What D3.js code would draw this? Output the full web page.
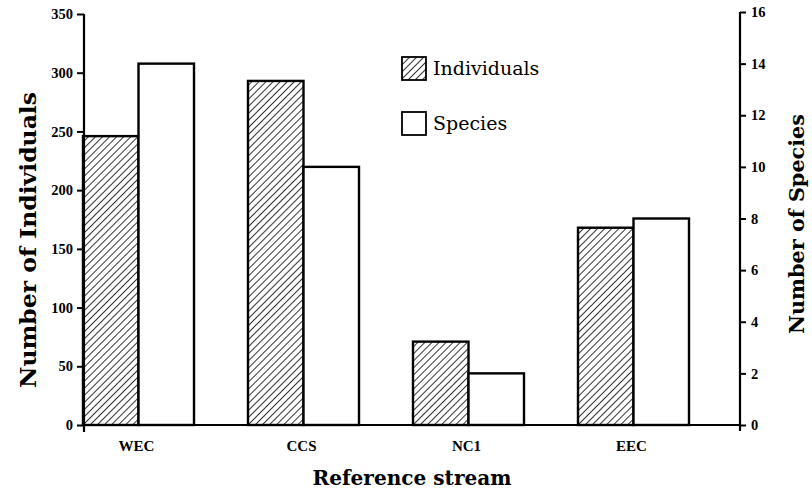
<!DOCTYPE html>
<html>
<head>
<meta charset="utf-8">
<script src="https://cdn.jsdelivr.net/npm/d3@7/dist/d3.min.js"></script>
<style>
  html, body { margin: 0; padding: 0; background: #fff; }
  svg { display: block; }
  text { font-family: "DejaVu Serif", "Liberation Serif", serif; fill: #000; }
</style>
</head>
<body>
<svg id="chart" width="812" height="493"></svg>
<script>
// Reference streams and the two measured quantities
const streams = ["WEC", "CCS", "NC1", "EEC"];
const individuals = [246, 293, 71, 168];
const species = [14, 10, 2, 8];
const leftTicks = [0, 50, 100, 150, 200, 250, 300, 350];
const rightTicks = [0, 2, 4, 6, 8, 10, 12, 14, 16];
const seriesNames = ["Individuals", "Species"];

const svg = d3.select("#chart");

// Hatch fill for the Individuals bars
const defs = svg.append("defs");
const pat = defs.append("pattern")
  .attr("id", "hatch")
  .attr("patternUnits", "userSpaceOnUse")
  .attr("width", 5).attr("height", 5)
  .attr("patternTransform", "rotate(45)");
pat.append("rect").attr("width", 5).attr("height", 5).attr("fill", "#fff");
pat.append("line")
  .attr("x1", 0).attr("y1", 0).attr("x2", 0).attr("y2", 5)
  .attr("stroke", "#000").attr("stroke-width", 1.6);

const axisLeftX = 84, axisRightX = 740, baseY = 425;

const x = d3.scaleBand().domain(streams).range([83, 689]).paddingInner(54 / 165).paddingOuter(0);
const xs = d3.scaleBand().domain(seriesNames).range([0, x.bandwidth()]);
const yL = d3.scaleLinear().domain([0, 350]).range([baseY, 14]);
const yR = d3.scaleLinear().domain([0, 16]).range([baseY, 12]);

// Bars
const groups = svg.append("g").selectAll("g").data(streams).join("g")
  .attr("transform", d => `translate(${x(d)},0)`);

groups.append("rect")
  .attr("x", xs("Individuals"))
  .attr("y", (d, i) => yL(individuals[i]))
  .attr("width", xs.bandwidth())
  .attr("height", (d, i) => baseY - yL(individuals[i]))
  .attr("fill", "url(#hatch)")
  .attr("stroke", "#000").attr("stroke-width", 2.4);

groups.append("rect")
  .attr("x", xs("Species"))
  .attr("y", (d, i) => yR(species[i]))
  .attr("width", xs.bandwidth())
  .attr("height", (d, i) => baseY - yR(species[i]))
  .attr("fill", "#fff")
  .attr("stroke", "#000").attr("stroke-width", 2.4);

const tickFont = sel => sel
  .style("font-family", "'Liberation Serif', serif")
  .style("font-size", "14.5px").style("font-weight", "bold");

// Left axis
const gL = svg.append("g").attr("transform", `translate(${axisLeftX},0)`)
  .call(d3.axisLeft(yL).tickValues(leftTicks).tickSize(7).tickSizeOuter(0).tickPadding(4));
gL.select(".domain").attr("stroke-width", 2.2).attr("d", `M0,${yL(350)}V${baseY + 7}`);
gL.selectAll(".tick line").attr("stroke-width", 2);
tickFont(gL.selectAll(".tick text"));

// Right axis
const gR = svg.append("g").attr("transform", `translate(${axisRightX},0)`)
  .call(d3.axisRight(yR).tickValues(rightTicks).tickSize(6).tickSizeOuter(0).tickPadding(5));
gR.select(".domain").attr("stroke-width", 2.2).attr("d", `M0,${yR(16)}V${baseY + 6}`);
gR.selectAll(".tick line").attr("stroke-width", 2);
tickFont(gR.selectAll(".tick text"));

// Baseline and category labels
const gX = svg.append("g").attr("transform", `translate(0,${baseY})`)
  .call(d3.axisBottom(x).tickSize(0).tickPadding(15));
gX.select(".domain").attr("stroke-width", 2.2).attr("d", `M${axisLeftX},0H${axisRightX}`);
gX.selectAll(".tick text")
  .attr("dx", -2)
  .style("font-family", "'Liberation Serif', serif")
  .style("font-size", "15px").style("font-weight", "bold");

// Axis titles
svg.append("text")
  .attr("transform", "translate(36,240) rotate(-90)")
  .attr("text-anchor", "middle")
  .attr("textLength", 296).attr("lengthAdjust", "spacingAndGlyphs")
  .style("font-size", "22px").style("font-weight", "bold")
  .text("Number of Individuals");

svg.append("text")
  .attr("transform", "translate(804,224) rotate(-90)")
  .attr("text-anchor", "middle")
  .attr("textLength", 220).attr("lengthAdjust", "spacingAndGlyphs")
  .style("font-size", "21px").style("font-weight", "bold")
  .text("Number of Species");

svg.append("text")
  .attr("x", 412).attr("y", 485)
  .attr("text-anchor", "middle")
  .attr("textLength", 199).attr("lengthAdjust", "spacingAndGlyphs")
  .style("font-size", "21px").style("font-weight", "bold")
  .text("Reference stream");

// Legend
const legend = svg.append("g").attr("transform", "translate(402,57)");
const legItems = legend.selectAll("g").data(seriesNames).join("g")
  .attr("transform", (d, i) => `translate(0,${i * 55})`);
legItems.append("rect")
  .attr("width", 24).attr("height", 23)
  .attr("fill", d => d === "Individuals" ? "url(#hatch)" : "#fff")
  .attr("stroke", "#000").attr("stroke-width", 1.8);
legItems.append("text")
  .attr("x", 31).attr("y", 18)
  .style("font-size", "19px")
  .text(d => d);
</script>
</body>
</html>
